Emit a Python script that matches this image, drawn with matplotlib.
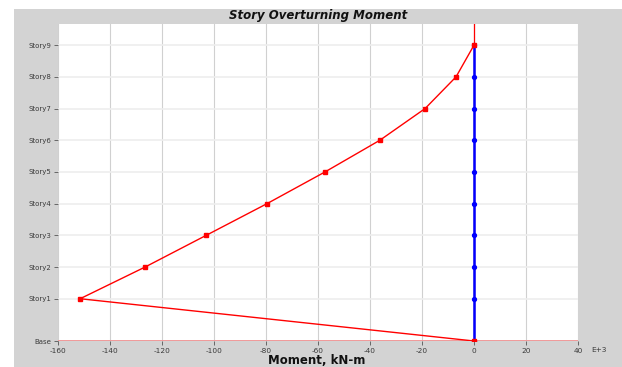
import matplotlib
matplotlib.use("Agg")
import matplotlib.pyplot as plt
from matplotlib.patches import Rectangle

stories = ["Base", "Story1", "Story2", "Story3", "Story4", "Story5", "Story6", "Story7", "Story8", "Story9"]
elev = [0, 4, 7, 10, 13, 16, 19, 22, 25, 28]
red_vals = [0, -151.5, -126.5, -103, -79.6, -57.3, -36.2, -18.8, -6.9, 0]
blue_vals = [0, 0, 0, 0, 0, 0, 0, 0, 0, 0]
xticks = [-160, -140, -120, -100, -80, -60, -40, -20, 0, 20, 40]

plt.rcParams['font.family'] = ['DejaVu Sans']
fig = plt.figure(figsize=(6.22, 3.67), dpi=100)
fig.patch.set_facecolor('white')
bg = Rectangle((14/622, 0), 1 - 14/622, 1 - 9/367, transform=fig.transFigure,
               facecolor='#d3d3d3', edgecolor='none', zorder=-10)
fig.add_artist(bg)

ax = fig.add_axes([58/622, 1 - 341/367, (578 - 58)/622, (341 - 24)/367])
ax.set_zorder(5)
ax.set_facecolor('white')
ax.set_xlim(-160, 40)
ax.set_ylim(0, 30)
ax.set_xticks(xticks)
ax.set_xticklabels([str(v) for v in xticks], fontsize=5.3, color='#3a3a3a')
ax.set_yticks(elev)
ax.set_yticklabels(stories, fontsize=5.0, color='#3a3a3a')
ax.tick_params(axis='both', length=3, width=0.6, color='#555555', pad=2)
for s in ax.spines.values():
    s.set_visible(False)
ax.grid(axis='x', color='#d0d0d0', lw=0.8)
ax.grid(axis='y', color='#eeeeee', lw=1.2)
ax.set_axisbelow(True)

ax.axhline(0, color='#f08080', lw=1.8, zorder=2)
ax.axvline(0, color='red', lw=0.9, zorder=3)
ax.plot(blue_vals, elev, color='blue', lw=1.8, marker='o', ms=2.8, zorder=4)
ax.plot(red_vals, elev, color='red', lw=1.0, marker='s', ms=3, zorder=5)

fig.text(318/622, 1 - 15.5/367, "Story Overturning Moment", ha='center', va='center',
         fontsize=8.5, fontweight='bold', fontstyle='italic', color='#111111', zorder=6)
fig.text(317/622, 1 - 360.5/367, "Moment, kN-m", ha='center', va='center',
         fontsize=8.5, fontweight='bold', color='#111111', zorder=6)
fig.text(599/622, 1 - 350/367, "E+3", ha='center', va='center', fontsize=5.3, color='#3a3a3a', zorder=6)

fig.savefig("out.png", dpi=100)
